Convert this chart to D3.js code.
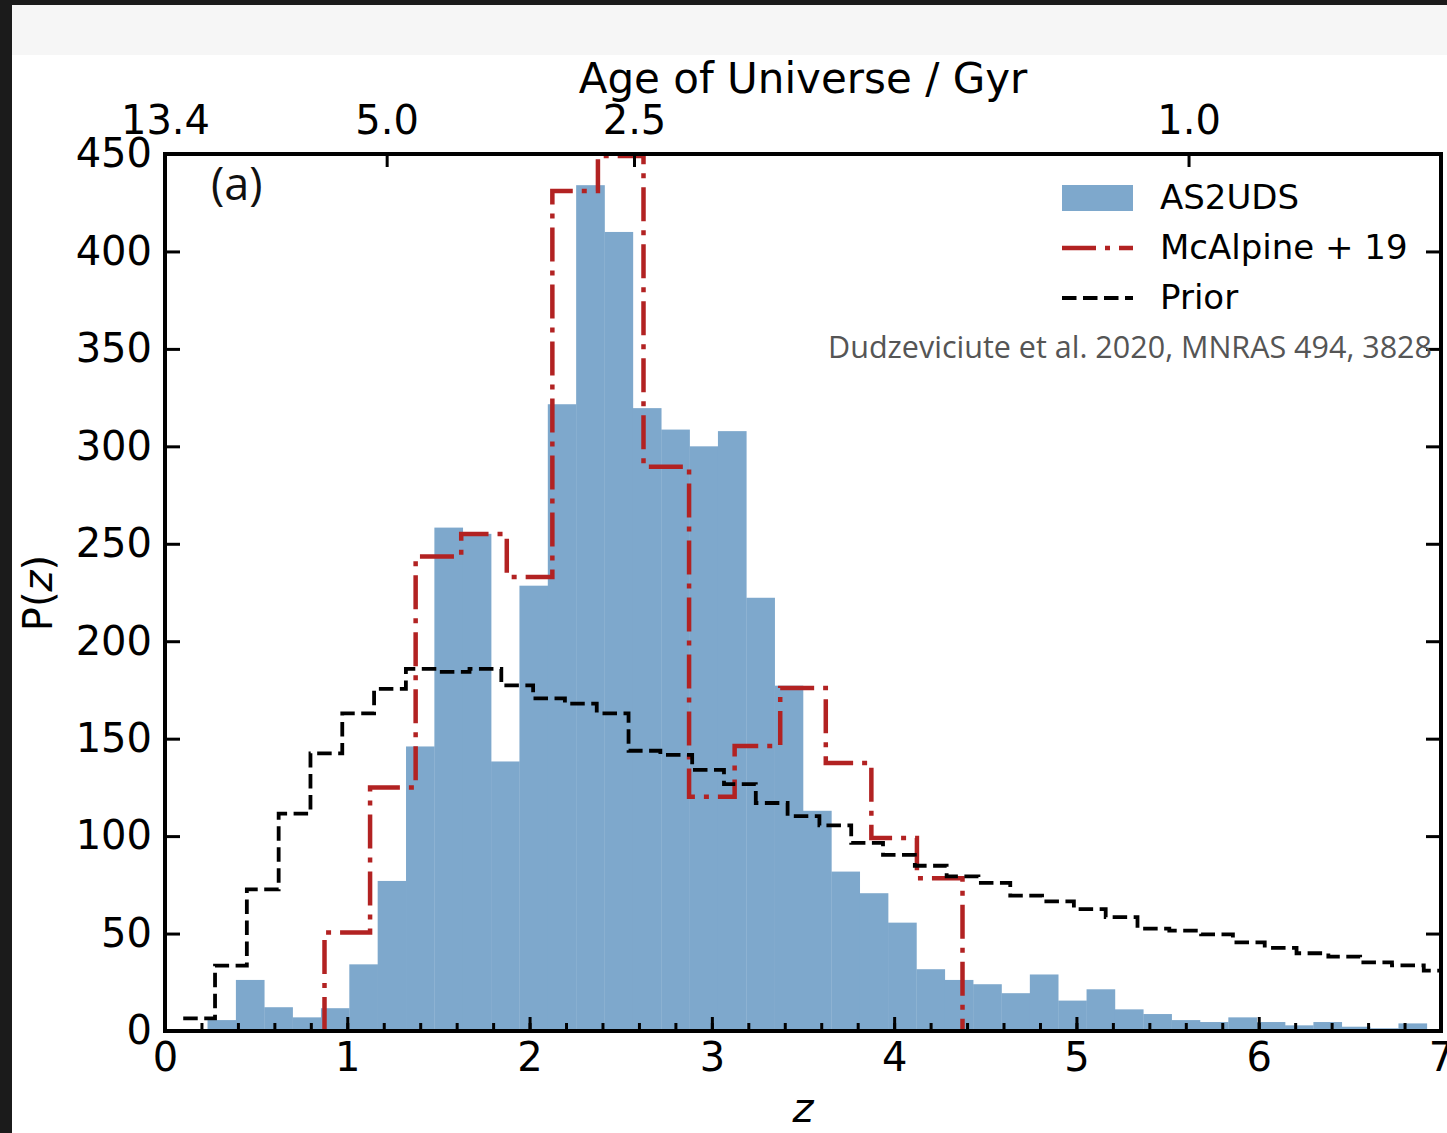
<!DOCTYPE html>
<html><head><meta charset="utf-8">
<script src="https://cdn.jsdelivr.net/npm/d3@7"></script>
<style>html,body{margin:0;padding:0;background:#fff;overflow:hidden}</style>
</head><body>
<svg id="chart" width="1447" height="1133"></svg>
<script>
// ---------------- data ----------------
const as2udsBinWidth = 7 / 45;          // z units
const as2udsFirstEdge = 0.5 * 7 / 45;   // z of first bin's left edge
const as2udsValues = [0, 5.6, 26.2, 12.2, 7, 11.7, 34.2, 77, 146, 258.3, 255.1, 138.3, 228.5, 321.6,
  434, 410, 319.6, 308.6, 300, 307.8, 222.3, 177.2, 113, 81.8, 70.7, 55.6, 31.7, 26.2, 24, 19.4,
  29, 15.6, 21.4, 11.1, 8.7, 5.6, 4.6, 7, 4.6, 2.9, 4.6, 2.2, 1.4, 3.9];

const mcalpineBinWidth = 0.25;
const mcalpineFirstEdge = 0.875;
const mcalpineValues = [50.5, 125, 243.5, 255, 233, 431, 449, 289.5, 120.2, 146.2, 176, 137.5, 99, 78.4];

const priorBinWidth = 0.1745;
const priorFirstEdge = 0.1;
const priorValues = [6.5, 33.5, 72.7, 111.5, 142.5, 163, 175.5, 185.8, 184.3, 185.8, 177.3, 170.7, 168, 163,
  143.8, 141.7, 134, 126.7, 117, 110.3, 105.5, 96.5, 90.4, 84.8, 79.3, 76, 69.5, 66.5, 62.5, 58.4,
  52.5, 51.5, 49.6, 45.5, 42.7, 39.9, 38.2, 35.2, 33.7, 31];

const zTicks = [0, 1, 2, 3, 4, 5, 6, 7];
const zMinorTicks = d3.range(0, 7.0001, 0.2);
const pTicks = [0, 50, 100, 150, 200, 250, 300, 350, 400, 450];
const ageLabels = ["13.4", "5.0", "2.5", "1.0"];
const ageTickZ = [0, 1.216, 2.573, 5.615];

const seriesNames = ["AS2UDS", "McAlpine + 19", "Prior"];

// ---------------- layout ----------------
const W = 1447, H = 1133;
const L = 165, R = 1441, T = 154, B = 1031;
const svg = d3.select("#chart");
const NUM_FONT = "'DejaVu Sans', sans-serif";
const BLUE = "#7ea8cc", RED = "#b22222";

// page background bands
svg.append("rect").attr("x", 0).attr("y", 0).attr("width", W).attr("height", H).attr("fill", "#ffffff");
svg.append("rect").attr("x", 0).attr("y", 0).attr("width", W).attr("height", 55).attr("fill", "#f6f6f6");
svg.append("rect").attr("x", 0).attr("y", 0).attr("width", W).attr("height", 5).attr("fill", "#1b1b1b");
svg.append("rect").attr("x", 0).attr("y", 0).attr("width", 12).attr("height", H).attr("fill", "#1b1b1b");

const x = d3.scaleLinear().domain([0, 7]).range([L, R]);
const y = d3.scaleLinear().domain([0, 450]).range([B, T]);

svg.append("defs").append("clipPath").attr("id", "plotclip")
  .append("rect").attr("x", L).attr("y", T).attr("width", R - L).attr("height", B - T);

const plot = svg.append("g").attr("clip-path", "url(#plotclip)");

// AS2UDS histogram bars
plot.append("g").selectAll("rect").data(as2udsValues).join("rect")
  .attr("x", (d, i) => x(as2udsFirstEdge + i * as2udsBinWidth))
  .attr("width", (d, i) => x(as2udsFirstEdge + (i + 1) * as2udsBinWidth) - x(as2udsFirstEdge + i * as2udsBinWidth) + 0.3)
  .attr("y", d => y(d))
  .attr("height", d => y(0) - y(d))
  .attr("fill", BLUE);

function stepPoints(first, width, vals) {
  const pts = [[first, 0]];
  vals.forEach((v, i) => pts.push([first + i * width, v]));
  const end = first + vals.length * width;
  pts.push([end, vals[vals.length - 1]]);
  pts.push([end, 0]);
  return pts;
}
const stepLine = d3.line().x(d => x(d[0])).y(d => y(d[1])).curve(d3.curveStepAfter);

// McAlpine+19
plot.append("path")
  .attr("d", stepLine(stepPoints(mcalpineFirstEdge, mcalpineBinWidth, mcalpineValues)))
  .attr("fill", "none").attr("stroke", RED).attr("stroke-width", 4.5)
  .attr("stroke-dasharray", "34 9 5 9");

// Prior
const priorPts = stepPoints(priorFirstEdge, priorBinWidth, priorValues).slice(1);
plot.append("path")
  .attr("d", stepLine(priorPts))
  .attr("fill", "none").attr("stroke", "#000").attr("stroke-width", 3.8)
  .attr("stroke-dasharray", "14.5 6.5");

// ---------------- axes ----------------
function styleAxis(g) {
  g.select(".domain").remove();
  g.selectAll(".tick line").attr("stroke", "#000").attr("stroke-width", 3);
  g.selectAll(".tick text").attr("font-family", NUM_FONT).attr("font-size", 40).attr("fill", "#000");
}
// bottom minor
svg.append("g").attr("transform", `translate(0,${B})`)
  .call(d3.axisBottom(x).tickValues(zMinorTicks).tickSize(-8).tickFormat(""))
  .call(styleAxis);
// bottom major
svg.append("g").attr("transform", `translate(0,${B})`)
  .call(d3.axisBottom(x).tickValues(zTicks).tickSize(-14).tickPadding(12).tickFormat(d3.format("d")))
  .call(styleAxis);
// left
svg.append("g").attr("transform", `translate(${L},0)`)
  .call(d3.axisLeft(y).tickValues(pTicks).tickSize(-15).tickPadding(13).tickFormat(d3.format("d")))
  .call(styleAxis);
// right
svg.append("g").attr("transform", `translate(${R},0)`)
  .call(d3.axisRight(y).tickValues(pTicks).tickSize(-15).tickFormat(""))
  .call(styleAxis);
// top (age)
svg.append("g").attr("transform", `translate(0,${T})`)
  .call(d3.axisTop(x).tickValues(ageTickZ).tickSize(-13).tickPadding(20)
    .tickFormat((d, i) => ageLabels[i]))
  .call(styleAxis);

// frame
svg.append("rect").attr("x", L).attr("y", T).attr("width", R - L).attr("height", B - T)
  .attr("fill", "none").attr("stroke", "#000").attr("stroke-width", 4);

// axis titles
svg.append("text").attr("x", (L + R) / 2).attr("y", 93)
  .attr("text-anchor", "middle").attr("font-family", NUM_FONT).attr("font-size", 42)
  .text("Age of Universe / Gyr");

svg.append("text").attr("x", (L + R) / 2).attr("y", 1122)
  .attr("text-anchor", "middle").attr("font-family", NUM_FONT).attr("font-size", 40)
  .attr("font-style", "italic").text("z");

const yl = svg.append("text").attr("transform", "translate(52,593) rotate(-90)")
  .attr("text-anchor", "middle").attr("font-family", NUM_FONT).attr("font-size", 40);
yl.append("tspan").text("P(");
yl.append("tspan").attr("font-style", "italic").text("z");
yl.append("tspan").text(")");

// panel label
svg.append("text").attr("x", 211).attr("y", 200)
  .attr("font-family", "'Open Sans', sans-serif").attr("font-size", 45).attr("fill", "#111")
  .text("(a)");

// ---------------- legend ----------------
const lg = svg.append("g");
lg.append("rect").attr("x", 1062).attr("y", 185).attr("width", 71).attr("height", 26).attr("fill", BLUE);
lg.append("line").attr("x1", 1062).attr("x2", 1133).attr("y1", 248).attr("y2", 248)
  .attr("stroke", RED).attr("stroke-width", 4.5).attr("stroke-dasharray", "34 9 5 9");
lg.append("line").attr("x1", 1062).attr("x2", 1133).attr("y1", 298).attr("y2", 298)
  .attr("stroke", "#000").attr("stroke-width", 3.8).attr("stroke-dasharray", "14.5 6.5");
[197, 247, 297].forEach((cy, i) => {
  lg.append("text").attr("x", 1160).attr("y", cy + 12)
    .attr("font-family", NUM_FONT).attr("font-size", 34).attr("fill", "#000")
    .text(seriesNames[i]);
});

// citation
svg.append("text").attr("x", 1432).attr("y", 358)
  .attr("text-anchor", "end").attr("font-family", "'Open Sans', sans-serif")
  .attr("font-size", 30.5).attr("fill", "#555")
  .text("Dudzeviciute et al. 2020, MNRAS 494, 3828");
</script>
</body></html>
